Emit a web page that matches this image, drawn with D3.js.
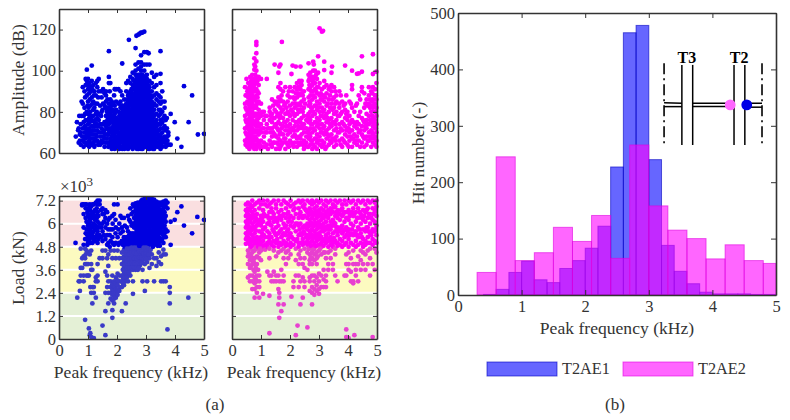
<!DOCTYPE html>
<html><head><meta charset="utf-8">
<script src="https://cdn.jsdelivr.net/npm/d3@7"></script>
<style>
html,body{margin:0;padding:0;background:#fff}
svg{display:block}
text{font-family:"Liberation Serif",serif;fill:#333}
</style></head><body><svg id="c" width="790" height="420"></svg>
<script>
// Histogram (panel b)
const series = ["T2AE1", "T2AE2"];
const t2ae1Edges = [0.4,0.6,0.8,1.0,1.2,1.4,1.6,1.8,2.0,2.2,2.4,2.6,2.8,3.0,3.2,3.4,3.6,3.8,4.0,4.2,4.4,4.6,4.8,5.0];
const t2ae1Hits = [1,10,40,60,27,22,47,61,83,122,227,465,478,240,88,42,20,5,2,2,2,1,1];
const t2ae2Edges = [0.3,0.6,0.9,1.2,1.5,1.8,2.1,2.4,2.7,3.0,3.3,3.6,3.9,4.2,4.5,4.8,5.0];
const t2ae2Hits = [40,245,61,75,120,95,141,65,266,158,115,100,64,89,61,56];
const xTicks = [0,1,2,3,4,5];
const ampTicks = [60,80,100,120];
const loadTicks = [0,1.2,2.4,3.6,4.8,6,7.2];
const hitTicks = [0,100,200,300,400,500];
const loadBands = [[0,2.4,"#e4f0d6"],[2.4,4.8,"#fcfac0"],[4.8,7.2,"#fadfe0"]];

// Scatter points: each row is [frequency, value, value, ...]
const t2ae1Amplitude = [
[0.58,68],[0.62,75],[0.66,71],[0.68,65,72],[0.72,66,69],[0.75,64,70,74],[0.78,85,78],[0.82,66,72,84,92],[0.85,63,68,75,78],[0.88,65,70,82,90],
[0.92,96,93,67,72,76],[0.96,100.5,95,88,64,69,80],[1.0,96,91,85,79,74,68,65],[1.04,94,89,77,72,66,63],[1.08,92,83,80,70,67],[1.13,102.5,95,87,76,73,64],
[1.18,93,85,81,78,69,65],[1.22,90,82,75,71,67,63],[1.27,94,88,79,73,69],[1.32,95,92,84,77,71,66],[1.37,96,90,76,70,65],[1.42,83,74,68,64],[1.47,87,80,72,66],
[1.52,91,84,70,68],[1.57,89,83,75,71,67,63],[1.62,90,88,85,78,73],[1.67,86,82,76,72,69,65],[1.72,109.5,97,94,84,79,74,71,65],[1.77,94,86,82,77,70,67],
[1.82,85,80,75,72,68,64,62],[1.87,84,78,73,69,66,63],[1.92,91,83,79,76,71,67,65,62],[1.97,91,85,81,77,74,70,66,63],[2.05,91,84,80,76,73,70,67,64,62],
[2.12,90,85,82,78,75,72,69,66,63],[2.18,103.5,88,83,80,77,74,71,68,65,62],[2.25,86,82,79,76,73,70,67,64,62],[2.32,94,90,84,81,78,75,72,69,66,63],
[2.38,95,88,85,82,79,76,73,70,67,64,62],[2.41,115],[2.46,97,94,90,87,84,81,78,75,72,69,66,63],
[2.54,99,96,93,91,88,86,84,82,80,78,76,74,72,70,68,66,64,62],[2.64,111,103,100,98,95,93,91,89,87,85,83,81,79,77,75,73,71,69,67,65,63],[2.67,117],[2.74,117.5,101,104,98,96,94,92,90,88,86,84,82,80,78,76,74,72,70,68,66,64,62],
[2.78,118],[2.83,107.5,118.5,104,102,100,98,96,94,92,90,88,86,84,82,80,78,76,74,72,70,68,66,64,62],[2.87,118.5],[2.94,119,109,103,100,97,95,93,91,89,87,85,83,81,79,77,75,73,71,69,67,65,63],
[3.03,109,103,98,96,94,91,89,87,85,83,81,79,77,75,73,71,69,67,65,63],[3.09,108.5],[3.12,103,95,92,90,88,86,84,82,80,78,76,74,72,70,68,66,64,62],
[3.2,99,94,90,87,85,82,80,78,76,74,72,70,67,65,63],[3.28,97,92,88,84,81,78,75,72,69,66,64,62],[3.36,98,93,89,86,83,79,76,73,70,67,64],[3.44,88,85,81,78,74,71,68,65,63],
[3.5,109.5,98.5,94,87,84,79,76,72,69,66,64],[3.56,90,85,80,75,70,67,65,63],[3.64,85,82,78,73,68,65],[3.72,77,72,68,64],[3.77,70,68.5,64],[3.85,79,64],[3.99,75],[4.08,67],[4.22,63],[4.31,92.5],[4.47,75],[4.59,88],[4.79,69],[5.0,69.3]];
const t2ae1AmplitudeDense = [
[0.7,78],[0.8,68],[0.9,73,79,87],[0.98,71,76,83],[1.02,70,82,93],[1.06,65,75,86],[1.1,69,78,90],[1.15,67,71,84,91],[1.2,64,73,88],[1.25,66,76,84],[1.3,68,74,80],[1.35,64,73,79,87],[1.45,70,78,90],[1.5,65,74,81],[1.6,65,69,75,82],[1.65,67,74,80],[1.7,63,69,77,81],[1.75,65,72,75,80,90],[1.8,63,66,70,78,83],[1.85,65,71,76,81],[1.9,63,69,74,78,88],[1.95,64,68,72,75,80],
[2.0,63,65,68,71,73],[2.08,62,64.5,67,69,72,74,76,78],[2.15,63,65.5,67.5,70,73,76,79,83],[2.21,63,66,69,72,75,78,81],[2.28,62.5,65,68,71,74,77,80,83],[2.35,62.5,65,68,71,74,77,80,83,86],[2.42,63,65,68,71,74,77,80,83,86,89],
[2.5,63,65,67,69,71,73,75,77,79,81,83,85,87,89,91],[2.59,63,65,67,69,71,73,75,77,79,81,83,85,87,89,91,93,95],[2.69,62,64,66,68,70,72,74,76,78,80,82,84,86,88,90,92,94,96,97],[2.78,63,65,67,69,71,73,75,77,79,81,83,85,87,89,91,93,95,97,98],[2.88,62,64,66,68,70,72,74,76,78,80,82,84,86,88,90,92,94,96,98],[2.98,63,65,67,69,71,73,75,77,79,81,83,85,87,89,91,93,95,97],
[3.07,62,64,66,68,70,72,74,76,78,80,82,84,86,88,90,92,93],[3.16,63,65,67,69,71,73,75,77,79,81,83,85,87,88],[3.24,62,64,66,68,70,73,75,77,79,81,83],[3.32,63,65,67,69,71,74],[3.4,63,65,67,69,71,74],[3.5,62,68,74,81],[3.6,66,72,77],[3.68,63,67,71,76],[3.74,64,66]];

const t2ae2Amplitude = [
[0.45,66,72,78,84,92],[0.5,65,69,75,81,88,96],[0.56,64,68,72,76,80,84,87,91,94],[0.63,63,66,70,74,78,82,86,90,94,97],[0.7,65,68,72,76,80,84,88,92,96,98],
[0.77,62,66,70,74,78,82,86,90,93,96,100.5,103,106],[0.84,114,112.5,108.5,104.5,100,97,94,91,88,85,82,79,76,73,70,67,64,62],[0.92,65,69,73,77,81,85,89,93,97],
[1.0,62,66,70,74,78,84,96],[1.1,65,68,72,76,80],[1.2,64,70,74,78,96],[1.3,66,72,76,80,82],[1.38,63,68,72,75,79,86],[1.47,103,65,69,73,77,81,85],[1.52,62,68,74,80,84],
[1.6,99,64,67,71,75,79,83,87,92],[1.63,102],[1.67,103,63,66,70,74,78,82,86,91,94],[1.72,114],[1.76,65,69,73,77,81,85,90],[1.84,62,67,71,75,79,84,92],[1.92,64,69,73,76,80,85,88],[2.0,66,70,74,78,83,87,92],
[2.05,98.4],[2.09,102.5,64,68,72,76,80,84,90],[2.16,65,69,73,78,82,86,92],[2.2,102],[2.24,63,67,71,75,79,83,87,91,94],[2.32,64,68,72,76,80,84,88,92,95],[2.36,102],[2.4,65,69,73,77,81,85,89,93,95],
[2.48,62,66,70,74,78,82,86,90],[2.56,65,68,72,76],[2.64,103.6,63,67,71,75,79,83,87,91,95,98],[2.7,64,68,72,76,80,84,88,92,96,99],[2.77,62,66,70,74,78,82,86,90,93,95,97],[2.8,104.4,100],[2.82,103],
[2.86,63,67,71,75,79,83,87,91,94,97,100],[2.93,62,65,69,73,77,81,85,89,92,96],[2.97,107,99],[3.02,120.6,64,68,72,76,80,84,88,94],[3.1,119,63,66,70,74,78,82,86,91],[3.14,119.4],[3.18,104.4,100.3,65,69,73,77,81,85,92,95],
[3.26,63,67,71,75,79,83,89,93],[3.34,64,68,72,76,80,86,91],[3.43,99,65,69,73,77,84,90,93],[3.45,102],[3.52,63,67,71,75,79,82,87,92],[3.6,64,68,72,76,80,85,88],[3.7,66,70,74,78,82,84,90],
[3.8,63,67,71,75,80,85],[3.9,102.5,65,69,73,77,81,84],[3.98,64,68,72,76,80],[4.05,66,70,74,78,85],[4.14,100,63,67,71,76,82,91,93],[4.22,65,69,73,80],[4.31,98.5,64,68,72,75,84],[4.37,98.7,66,70,74,78,88],
[4.48,107,99.5,65,69,73,77,90,92],[4.56,63,67,71,75,82,89],[4.64,64,68,72,76,79,86],[4.72,66,70,74,78,84,88,92],[4.8,63,67,71,75,80,83,90],[4.86,108,98.4,65,69,73,77,82,86,92],[4.93,64,68,72,76,80,84,88,91],[4.98,99.5,63,66,70,74,78,82,86,94]];
const t2ae2AmplitudeDense = [
[0.47,64,70,76,82,88],[0.53,63,67,73,79,85,90],[0.6,62,65,67,69,71,73,75,77,79,81,83,85,88,89,92],[0.66,64,67,69,71,73,75,77,80,83,85,87,89,91,93,95],[0.73,63,67,70,74,78,82,86,90,94],[0.8,64,68,71,75,79,83,87,91,95,98,102],[0.88,63,66,71,75,78,84,87,90,95],
[0.96,64,71,79],[1.04,63,72,80],[1.14,63,70,78],[1.24,62,72],[1.34,64,70,78],[1.42,65,70,77,83],[1.56,65,72,78,85],[1.64,62,69,77,85],[1.71,64,72,80,88],[1.8,67,75,83],[1.88,65,73,82],[1.96,63,71,79,90],
[2.04,65,72,81],[2.12,63,71,79,87],[2.2,68,75,84,89],[2.28,65,73,81,89,92],[2.36,67,75,83,91,94],[2.44,64,72,80,88],[2.52,64,72,84],[2.6,63,70,78],
[2.67,69,77,85,93,96],[2.73,66,74,82,90,97],[2.8,64,72,80,88,96],[2.9,67,75,83,90,98],[2.98,66,74,82,92],[3.06,70,78,86,89],[3.14,64,72,80,88],[3.22,62,70,78,87],[3.3,69,77,84],[3.38,66,74,82,88,92],[3.47,67,75,81,86],[3.56,66,74,84,90],[3.65,70,78],[3.75,64,72,79,88],[3.85,66,74,83],[3.94,71,79,88],[4.02,63,72,78],[4.1,68,75,84],[4.18,67,75],[4.27,66,74,83],[4.42,63,71,80,86],[4.52,68,76],[4.6,73,84],[4.68,66,74,83],[4.76,68,76,82,86],[4.84,70,78,85,89],[4.9,67,75,83],[4.96,72,80,88]];

const t2ae1Load = [
[0.57,5],[0.63,2.15],[0.68,3],[0.72,3,2.5],[0.75,3.3,3.7,4.7],[0.8,7,6.95,3.7,4.2],[0.85,7,6.5,5.8,4.9,4.3,3.3,3],[0.9,7,5.2,4.7,4.2,3.9,1],[0.95,7,6.1,5.7,5.2,4.6,3.9,3.3],
[1.0,6.4,5.9,5.5,5,4.5,3.9,3.3],[1.03,0.55,3.3],[1.06,7,6.9,6.2,5.7,5.2,4.4,0.2],[1.08,0.3,2.7],[1.11,0.1,6.9,6.5,5.9,5.4,4.6,3.9,3.6,2.4],[1.15,1.85,2.7,3.6,7,5.5,5],[1.2,0.05,7,6.6,6,5.6,5.1,2.7,2.4],[1.27,7.1,6.4,5.9,5.3,2.15,3.2,3],
[1.33,7.2,7,6.6,6.1,5.6,5,3.9,3.3,3],[1.4,7.2,7,6,5.4,4.2],[1.5,6.8,6.5,6,5.6,5.1,4.6,0.7,4.2],[1.6,6.7,6.3,5.8,5.2,4.6,3.5,2.4,1.45,0.2],[1.66,6.6,6,5.4,4.9,4.2,3.3,2.7],[1.7,6.2,5.7,5,4.4,3.8,3,2.4,1.85],
[1.78,5.7,5.1,4.6,3,2.7,2.4,2.1],[1.84,6.4,5.3,4.2,3.3,2.85,2.55,2.3,2,1.5,1.1],[1.9,7,6.5,4.9,4.6,3,2.7,2.5,2.3,2.1,1.85],[1.96,5.8,5,4.2,3.2,2.9,2.6,2.4,2.15],[2.02,7,5.3,4.6,3.4,3.05,2.8,2.5,2.3],[2.08,6,5,4.2,3.3,3,2.7,2.5],
[2.17,6.3,5.8,5.1,4.5,3.9,3.3,3,2.7,1.45],[2.24,6.3,5.3,5,4.65,4.3,4,3.7,3.4,3.1,2.8],[2.3,5.2,4.8,4.6,4.3,4.05,3.85,3.6,3.3,3,1.85],[2.38,6.4,5.6,5.1,4.8,4.5,4.25,4,3.8,3.6,3.3,3],[2.46,6.8,6.1,5.5,5.1,4.85,4.6,4.35,4.1,3.85,3.6,3.3],
[2.55,7,6.6,6,5.5,5.2,4.9,4.6,4.35,4.1,3.85,3.6,2.35,3],[2.64,7.05,6.7,6.4,6.1,5.8,5.5,5.2,4.9,4.6,4.3,4.05,3.8,3.6],[2.72,7.1,6.8,6.5,6.2,5.9,5.6,5.3,5,4.7,4.4,4.1,3.8,3.6],[2.8,7.1,6.8,6.5,6.2,5.9,5.6,5.3,5,4.7,4.4,4.1,3.85],
[2.88,7.25,7,6.7,6.4,6.1,5.8,5.5,5.2,4.9,4.6,4.3,4,3.6,3],[2.96,7.3,7,6.7,6.4,6.1,5.8,5.5,5.2,4.9,4.6,4.3,3.9,2.5],[3.04,7.3,7.05,6.75,6.45,6.15,5.85,5.55,5.25,4.95,4.6,4.3,4,3],[3.12,7.3,7,6.7,6.4,6.1,5.8,5.5,5.2,4.9,4.5,4.2,3.7],
[3.2,7.3,7,6.75,6.45,6.15,5.85,5.55,5.25,4.95,4.4,3.9],[3.28,7.25,7,6.7,6.4,6.1,5.8,5.5,5.2,4.9,4.2,3],[3.36,7.15,6.9,6.6,6.3,6,5.7,5.4,5.1,4.2,3.8],[3.44,7.1,6.8,6.5,6.2,5.9,5.6,5.3,5,4.5,4],[3.52,7.1,6.7,6.4,6.1,5.8,5.5,5.1,3.9,3,4.3],
[3.6,7.15,6.8,6.5,6.2,5.8,5.4,5,4.65,4.4,3],[3.68,7.2,6.9,6.4,6.1,5.7,5.3,4.4,3],[3.74,7.1,6.8,5.6,0.5],[3.82,2.7,2.4,1.85],[3.85,6.1,4.9],[3.99,6.2],[4.08,6.6],[4.22,6.9],[4.31,5.9],[4.46,2.15],[4.59,5.5],[4.77,6.35],[5,6.2]];
const t2ae1LoadDense = [
[0.92,6.8,6.3,5.5,4.4],[0.98,6.6,5.4,4.9],[1.03,6.8,6.4,6,5.7,5.3,5],[1.08,6.7,6.1,5.6,5],[1.13,6.3,5.8,5.3],[1.18,6.4,5.9,5.3],[1.24,6.7,6.2,5.7,5.1],[1.3,6.8,6.3,5.8,5.4],[1.36,6.4,5.8,5.2],
[1.45,6.7,5.8,5.3],[1.55,6.5,6.1,5.4],[1.75,6.3,5.4,4.8],[1.85,6,5.7,5],[1.95,6.2,5.5],[2.05,5.7,4.9],[2.12,6.4,5.5,5],[2.2,5.6,4.9,4.2,3.6,3.2,2.9],[2.27,5.9,5.1,4.8,4.5,4.15,3.85,3.55,3.2],[2.34,5.8,5.3,4.95,4.7,4.4,4.15,3.95,3.7,3.45,3.2],[2.42,6.2,5.4,5.2,4.95,4.7,4.4,4.15,3.95,3.7,3.45],
[2.5,6.5,5.9,5.3,5,4.75,4.5,4.2,3.95,3.7],[2.59,6.9,6.3,5.8,5.35,5.05,4.75,4.5,4.2,3.95,3.7],[2.68,6.9,6.55,6.25,5.95,5.65,5.35,5.05,4.75,4.45,4.2,3.9,3.7],[2.76,7,6.65,6.35,6.05,5.75,5.45,5.15,4.85,4.55,4.25,3.95,3.7],[2.84,7.2,6.95,6.65,6.35,6.05,5.75,5.45,5.15,4.85,4.55,4.25,3.95],
[2.92,7.15,6.85,6.55,6.25,5.95,5.65,5.35,5.05,4.75,4.45,4.15],[3,7.15,6.85,6.55,6.25,5.95,5.65,5.35,5.05,4.75,4.45,4.15],[3.08,7.2,6.85,6.55,6.25,5.95,5.65,5.35,5.05,4.7,4.4],[3.16,7.15,6.85,6.55,6.25,5.95,5.65,5.35,5.05,4.65],[3.24,7.15,6.85,6.55,6.25,5.95,5.65,5.35,5.05,4.8],[3.32,7.05,6.75,6.45,6.15,5.85,5.55,5.25,4.95],[3.4,6.95,6.65,6.35,6.05,5.75,5.45,5.15,4.85],[3.48,6.95,6.55,6.25,5.95,5.65,5.25,4.85],[3.56,6.95,6.35,6,5.6,5.2],[3.64,7,6.6,6.25,5.9,5.5]];

const t2ae2Load = [
[0.48,7,6.7,6.4,6.1,5.8,5.5,5.2,4.95],[0.55,7.1,6.8,6.5,6.2,5.9,5.6,5.3,5,4.6,4.3,3.9,3.2],[0.62,7,6.7,6.4,6.1,5.8,5.5,5.2,4.9,4.7,4.4,4.1,3.7,3.3,3],[0.7,7.2,6.9,6.6,6.3,6,5.7,5.4,5.1,4.85,4.5,4.2,3.9,3.3,3,2.6],
[0.78,7,6.7,6.1,5.8,5.5,5.2,4.9,4.6,4.2,3.9,3.5,3.2,2.9,2.6,2.15],[0.86,7.1,6.5,6.2,5.9,5.3,5,4.7,4.3,3.9,3.3,3,2.7,2.4],[0.94,7.2,6.8,6.2,5.6,5.1,4.85,4.5,4.2,3.3,3,2.7,2.15],[1.0,7,6.4,5.9,5.3,4.9,4.6,4.1],[1.07,7.2,6.7,6.1,5.7,5.1,2.35,4.8],[1.14,7,6.4,5.8,5.3,4.9,4.65],
[1.22,7.2,6.9,6.4,6,5.6,5,4.8,3.5],[1.29,7,6.6,6.1,5.5,5.1,4.7,4.2,3.3,2.25,0.3],[1.36,7.1,6.8,6.3,5.9,5.3,5,4.9,3,3.3],[1.44,7.2,6.5,6.1,5.6,5.1,4.8,4.6,3.5,3],[1.52,7,6.8,6.2,5.8,5.4,5,4.3,3.3,3],[1.6,7.2,6.6,6.3,5.9,5.5,5,4.8,4.5,3.3,2.6,1.8],[1.63,1.1,2.15,2.4,3],
[1.7,7,6.7,6.2,5.7,5.3,4.9,4.6,3.6,3,1.45],[1.78,7.2,6.5,6,5.5,5.1,4.7,4.2,3.3,3,1.8],[1.86,7.1,6.8,6.3,5.9,5.4,5,4.85,4.5,3.9],[1.94,7,6.6,6.1,5.7,5.2,4.9,4.6,4.2],[2.02,7.2,6.9,6.4,5.9,5.5,5,4.8,4.4],[2.05,2.2],[2.12,7,6.7,6.3,5.8,5.2,4.9,3,2.7],
[2.2,7.1,6.5,6,5.6,5.1,4.7,4.1,3.3,0.2],[2.26,0.7],[2.3,7.2,6.8,6.3,5.9,5.4,5,4.8,4.4,3.9,3.3,2.7],[2.36,7.1,6.6,6,5.5,5,4.6,4.2,3,1.8],[2.44,7.2,6.9,6.3,5.8,5.2,4.9,3.9,3.2,2.15],[2.5,7,6.8,6.4,5.9,5.5,5,4.7,4.2,3.7,3,2.7],
[2.6,7.2,6.6,6.3,6,5.7,5.4,5.1,4.9,4.5,3.6,0.6],[2.68,7.1,6.8,6.5,6.2,5.9,5.6,5.3,5,4.7,4.4,4.1,3.9,3.2,3,2.5],[2.76,7.2,7,6.6,6.3,6,5.7,5.4,5.1,4.85,4.5,4.2,3.9,3.3,2.7,2.4,1.8],[2.84,7.1,6.8,6.5,6.2,5.9,5.6,5.3,5,4.7,4.4,4.1,3.3,3,2.6,2.3],
[2.92,7.2,6.9,6.6,6.3,6,5.7,5.4,5.1,4.85,4.5,4.2,3.9,3.2,2.8,2.5],[3,7.1,6.7,6.4,6.1,5.8,5.5,5.2,4.9,4.6,3.4,3,2.6,2.35],[3.08,7.2,6.8,6.5,6.2,5.9,5.6,5.3,5,4.8,4.4,3.3,2.7],[3.16,7,6.7,6.3,6,5.6,5.1,4.85,4.5,3.6,3.1,2.7],[3.24,7.2,6.9,6.4,6.1,5.7,5.4,5,4.2,3.3,3,2.7],
[3.32,7.1,6.7,6.3,5.9,5.5,5.1,4.8,4.5,3.9,3.6],[3.4,7.2,6.8,6.5,6.1,5.7,5.3,4.9,4.6,4.2],[3.48,7,6.6,6.2,5.9,5.5,5,4.8,3.6,3.9],[3.56,7.2,6.9,6.4,6,5.6,5.1,4.7,4.4,3.3],[3.64,7.1,6.7,6.3,5.8,5.4,5,3,4.85],[3.72,7.2,6.5,6.2,5.7,5.2,4.9],[3.8,7,6.8,6.4,5.9,5.5,5.1,4.8],
[3.88,7.2,6.6,6.1,5.7,5.3,4.9,3.3],[3.94,7,6.3,5.8,5.4,5,4.4,3.9,3.3,0.1,0.5],[4.02,7.2,6.7,6.2,5.7,5.2,4.8,4.5,3.9,3.6,0.05],[4.1,7.1,6.5,6,5.5,5,4.2,3.5,3],[4.18,7.2,6.8,6.4,5.9,5.4,4.9,4.6,3.9,3,2.9],[4.22,0.2],[4.27,7,6.6,6.1,5.6,5.1,4.8,3.6,3.9,3.3],
[4.35,7.2,6.8,6.3,5.8,5.3,4.9,4.3,3.9,3],[4.44,7.1,6.5,6,5.5,5,4.6,4.1,3.6],[4.52,7.2,6.7,6.2,5.7,5.2,4.8,4.5,3.9],[4.6,7,6.6,6.1,5.6,5.1,4.9,4.4,3.6],[4.68,7.2,6.8,6.3,5.8,5.3,5,4.6,3.9],[4.76,7.1,6.5,6,5.5,5,4.7,4.2,3.3],[4.85,7.2,6.8,6.2,5.7,5.2,4.9,3.9,0.1],
[4.92,7.1,6.6,6.1,5.6,5.1,4.7,3.6],[4.98,7.2,6.9,6.4,5.9,5.4,5,4.5]];
const t2ae2LoadDense = [
[0.52,6.55,5.95,5.35],[0.58,6.35,5.75,5.15,4.45],[0.66,6.85,6.25,5.65,5.05,4.8,4.3,3.8],[0.74,6.45,5.85,5.25,4.6,4.05,3.6],[0.82,6.3,5.65,5.05,4.75,3.7,3.1],[0.9,6,5.15,4.8,3.6],[0.97,6.05,5,4.7],
[1.04,6.3,5.5],[1.1,6.5,5.4],[1.26,6.3,5.3],[1.32,5.95,5],[1.4,6.6,5.7],[1.48,6.3,5.5],[1.56,6.1,5.2],[1.65,6.4,5.6,5],[1.74,6.4,5.4],[1.82,5.8,4.95],
[1.9,6.5,5.6],[1.98,6.3,5.4],[2.06,6.1,5.3],[2.16,6.8,5.9],[2.25,6,5.2],[2.33,6.5,5.7],[2.4,6.4,5.4],[2.47,5.6,5],[2.55,6.7,5.8,5.3],[2.64,6.45,5.85,5.25,4.7],[2.72,6.65,6.05,5.45,4.85,4.25],[2.8,6.45,5.85,5.25,4.65],[2.88,6.65,6.05,5.45,4.85],[2.96,6.45,5.85,5.25,4.3],[3.04,6.55,5.95,5.35,4.7],[3.12,6.35,5.75,5.15],[3.2,6.5,5.8,5.2,4.5],[3.28,6.6,5.85,5.25],
[3.36,6.5,5.7],[3.44,6.65,5.9,5.1],[3.52,6.85,6.05,5.25],[3.6,6.6,5.8,5],[3.68,6.5,5.6],[3.76,6.7,5.8],[3.84,6.5,5.6],[3.98,6.6,5.6],[4.06,6.4,5.4],[4.14,6.6,5.7],[4.22,6.5,5.5],[4.31,6.3,5.4],[4.4,6.6,5.7],[4.48,6.3,5.3],[4.56,6.4,4.95],[4.64,6.7,5.8],[4.72,6.5,5.6],[4.8,6.3,5.4],[4.88,6.5,5.6],[4.95,6.7,5.7]];

// Inset schematic of the tower section, in histogram axis units
const insetLines = [[3.52,408,3.52,266],[3.69,408,3.69,266],[4.34,408,4.34,266],[4.51,408,4.51,266],
 [3.24,341,3.52,340],[3.24,334,3.52,334],[3.69,340,4.34,340],[3.69,334,4.34,334],[4.51,340,4.78,340],[4.51,333,4.78,333]];
const insetDash = [[3.24,411,3.24,264],[4.78,411,4.78,264]];
const insetLabels = [["T3",3.6,411],["T2",4.42,411]];
const insetDots = [[4.28,337,"#ff66ff"],[4.54,337,"#0000e6"]];

const flat = rows => rows.flatMap(([f,...v]) => v.map(y => [f,y]));
const svg = d3.select("#c");
const INK = "#333";
const TICK = "16.5px";

function frame(g, x, y, xT, yT, showX, showY, inner=4) {
  const w = x.range()[1], h = y.range()[0];
  const style = s => { s.select(".domain").attr("stroke",INK).attr("stroke-width",1.6);
    s.selectAll(".tick line").attr("stroke",INK).attr("stroke-width",1);
    s.selectAll("text").attr("fill",INK).style("font-size",TICK).style("font-family",'"Liberation Serif",serif'); };
  g.append("g").attr("transform",`translate(0,${h})`).call(d3.axisBottom(x).tickValues(xT).tickSize(-inner).tickSizeOuter(0).tickPadding(5).tickFormat(showX?d3.format("d"):"")).call(style);
  g.append("g").call(d3.axisTop(x).tickValues(xT).tickSize(-inner).tickSizeOuter(0).tickFormat("")).call(style);
  g.append("g").call(d3.axisLeft(y).tickValues(yT).tickSize(-inner).tickSizeOuter(0).tickPadding(3).tickFormat(showY||(()=>""))).call(style);
  g.append("g").attr("transform",`translate(${w},0)`).call(d3.axisRight(y).tickValues(yT).tickSize(-inner).tickSizeOuter(0).tickFormat("")).call(style);
}
function scatter(left, top, w, h, rows, color, dull, yDomain, yT, showX, showY, bands) {
  const g = svg.append("g").attr("transform",`translate(${left},${top})`);
  const x = d3.scaleLinear().domain([0,5]).range([0,w]);
  const y = d3.scaleLinear().domain(yDomain).range([h,0]);
  const pts = flat(rows);
  if (bands) {
    g.append("g").selectAll("rect").data(bands).join("rect")
      .attr("x",0).attr("width",w).attr("y",d=>y(d[1])).attr("height",d=>y(d[0])-y(d[1])).attr("fill",d=>d[2]);
    g.append("g").selectAll("line").data(yT.slice(1,-1)).join("line")
      .attr("x1",0).attr("x2",w).attr("y1",d=>y(d)).attr("y2",d=>y(d)).attr("stroke","#fff").attr("stroke-width",2);
  }
  const clip = "cp"+left+top;
  g.append("clipPath").attr("id",clip).append("rect").attr("x",-1).attr("y",-1).attr("width",w+3).attr("height",h+2);
  g.append("g").attr("clip-path",`url(#${clip})`).selectAll("circle").data(pts).join("circle")
    .attr("cx",d=>x(d[0])).attr("cy",d=>y(d[1])).attr("r",2.4).attr("fill",d=>(bands && d[1]<4.8)?dull:color);
  frame(g,x,y,xTicks,yT,showX,showY);
  return g;
}
const plainFmt = d => String(d);
scatter(59,9,145,144,[...t2ae1Amplitude,...t2ae1AmplitudeDense],"#0000e0",null,[60,130],ampTicks,false,plainFmt);
scatter(232,9,145,144,[...t2ae2Amplitude,...t2ae2AmplitudeDense],"#ff00f5",null,[60,130],ampTicks,false,null);
scatter(59,196,145,143,[...t2ae1Load,...t2ae1LoadDense],"#0000e0","#3a3ac8",[0,7.44],loadTicks,true,plainFmt,loadBands);
scatter(232,196,145,143,[...t2ae2Load,...t2ae2LoadDense],"#ff00f5","#e840d0",[0,7.44],loadTicks,true,null,loadBands);

// Histogram
const hL=458, hT=13, hW=318, hH=282;
const gh = svg.append("g").attr("transform",`translate(${hL},${hT})`);
const hx = d3.scaleLinear().domain([0,5]).range([0,hW]);
const hy = d3.scaleLinear().domain([0,500]).range([hH,0]);
const bars = (hits,edges,fill,stroke) => gh.append("g").selectAll("rect").data(hits).join("rect")
  .attr("x",(d,i)=>hx(edges[i])).attr("width",(d,i)=>hx(edges[i+1])-hx(edges[i]))
  .attr("y",d=>hy(d)).attr("height",d=>hH-hy(d))
  .attr("fill",fill).attr("fill-opacity",0.6).attr("stroke",stroke).attr("stroke-opacity",0.6).attr("stroke-width",1);
bars(t2ae1Hits,t2ae1Edges,"#0000ff","#0000c0");
bars(t2ae2Hits,t2ae2Edges,"#ff00ff","#e000e0");
frame(gh,hx,hy,xTicks,hitTicks,true,plainFmt,5);

// Inset
gh.append("g").selectAll("line").data(insetLines).join("line")
  .attr("x1",d=>hx(d[0])).attr("y1",d=>hy(d[1])).attr("x2",d=>hx(d[2])).attr("y2",d=>hy(d[3]))
  .attr("stroke","#000").attr("stroke-width",1.5);
gh.append("g").selectAll("line").data(insetDash).join("line")
  .attr("x1",d=>hx(d[0])).attr("y1",d=>hy(d[1])).attr("x2",d=>hx(d[2])).attr("y2",d=>hy(d[3]))
  .attr("stroke","#000").attr("stroke-width",1.6).attr("stroke-dasharray","11 4 2 4");
gh.append("g").selectAll("circle").data(insetDots).join("circle")
  .attr("cx",d=>hx(d[0])).attr("cy",d=>hy(d[1])).attr("r",5.4).attr("fill",d=>d[2]);
gh.append("g").selectAll("text").data(insetLabels).join("text")
  .attr("x",d=>hx(d[1])).attr("y",d=>hy(d[2])).attr("text-anchor","middle")
  .style("font-size","16px").style("font-weight","bold").style("fill","#000").text(d=>d[0]);

// Text
const label = (x,y,t,size=17.6,rot=0,anchor="middle") => svg.append("text").attr("transform",`translate(${x},${y}) rotate(${rot})`)
  .attr("text-anchor",anchor).style("font-size",size+"px").text(t);
label(24,80,"Amplitude (dB)",17.6,-90);
label(24,268,"Load (kN)",17.6,-90);
label(131,378,"Peak frequency (kHz)");
label(304,378,"Peak frequency (kHz)");
label(617,334,"Peak frequency (kHz)");
label(424,153,"Hit number (-)",17.6,-90);
label(215,410,"(a)",17);
label(615,410,"(b)",17);
const ex = label(60,192,"×10",17,0,"start");
ex.append("tspan").attr("dy",-6).style("font-size","13px").text("3");

// Legend
const legend = svg.append("g");
const legendX = [487,623], legendColor = [["#0000ff","#0000c0"],["#ff00ff","#e000e0"]];
series.forEach((s,i)=>{
  legend.append("rect").attr("x",legendX[i]).attr("y",362).attr("width",70).attr("height",14)
    .attr("fill",legendColor[i][0]).attr("fill-opacity",0.6).attr("stroke",legendColor[i][1]).attr("stroke-opacity",0.6);
  legend.append("text").attr("x",legendX[i]+75).attr("y",374).style("font-size","16.3px").text(s);
});
</script></body></html>
